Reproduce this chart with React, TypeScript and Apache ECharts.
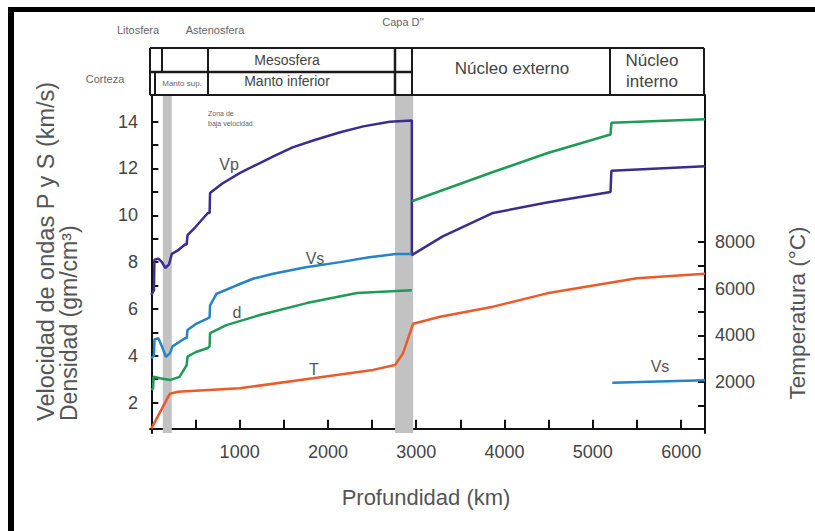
import React, { useEffect, useRef } from "react";
import * as echarts from "echarts";

// depth (km), value
const vpData: [number, number][] = [
  [0, 6.6], [30, 6.8], [35, 8.1], [80, 8.15], [120, 8.0], [160, 7.75], [200, 7.9], [232, 8.35],
  [300, 8.5], [380, 8.75], [400, 8.75], [410, 9.15], [500, 9.5], [640, 10.1], [660, 10.1],
  [665, 10.95], [800, 11.35], [1000, 11.8], [1200, 12.18], [1400, 12.55], [1600, 12.9],
  [1850, 13.22], [2140, 13.55], [2400, 13.8], [2700, 14.0], [2950, 14.05], [2950, 8.3],
  [3300, 9.1], [3870, 10.1], [4480, 10.55], [5200, 11.0], [5210, 11.9], [6270, 12.1],
];
const vsMantle: [number, number][] = [
  [0, 3.9], [30, 4.0], [35, 4.7], [80, 4.75], [120, 4.4], [165, 3.95], [210, 4.1], [240, 4.4],
  [380, 4.75], [400, 4.75], [410, 5.1], [500, 5.35], [640, 5.6], [660, 5.65], [665, 6.15],
  [740, 6.65], [960, 7.0], [1160, 7.3], [1380, 7.5], [1750, 7.78], [2140, 8.0], [2450, 8.2],
  [2770, 8.35], [2950, 8.35],
];
const vsInnerCore: [number, number][] = [[5220, 2.85], [6270, 2.95]];
const dMantle: [number, number][] = [
  [0, 2.55], [20, 2.6], [25, 3.1], [100, 3.04], [210, 2.96], [320, 3.1], [400, 3.6],
  [410, 3.96], [500, 4.15], [640, 4.33], [660, 4.4], [665, 4.97], [850, 5.31], [1230, 5.74],
  [1760, 6.25], [2330, 6.68], [2950, 6.8],
];
const dCore: [number, number][] = [
  [2950, 10.6], [3870, 11.85], [4480, 12.65], [5200, 13.45], [5210, 13.95], [6270, 14.1],
];
const tempData: [number, number][] = [
  [0, 0], [210, 1500], [300, 1580], [1000, 1730], [1830, 2160], [2510, 2520], [2760, 2730],
  [2850, 3230], [2965, 4500], [3270, 4800], [3870, 5230], [4480, 5800], [5500, 6450], [6270, 6640],
];
const grayBands: [number, number][] = [[130, 232], [2760, 2965]];
const xTicks = [500, 1000, 1500, 2000, 2500, 3000, 3500, 4000, 4500, 5000, 5500, 6000];
const xLabels = [1000, 2000, 3000, 4000, 5000, 6000];
const leftTicks = [2, 3, 4, 5, 6, 7, 8, 9, 10, 11, 12, 13, 14];
const leftLabels = [2, 4, 6, 8, 10, 12, 14];
const rightTicks = [1000, 2000, 3000, 4000, 5000, 6000, 7000, 8000];
const rightLabels = [2000, 4000, 6000, 8000];

const FONT = "Liberation Sans, Arial, sans-serif";

export default function App() {
  const ref = useRef<HTMLDivElement>(null);
  useEffect(() => {
    if (!ref.current) return;
    const chart = echarts.init(ref.current, undefined, { renderer: "svg" });
    const axisLine = { show: true, lineStyle: { color: "#111", width: 2 } };
    const tickStyle = { color: "#111", width: 2 };
    const labelStyle = { color: "#444", fontSize: 18, fontFamily: FONT, formatter: (v: number) => String(v) };
    const line = (x1: number, y1: number, x2: number, y2: number, w = 2) => ({
      type: "line", shape: { x1, y1, x2, y2 }, style: { stroke: "#1a1a1a", lineWidth: w }, z: 100,
    });
    const txt = (x: number, y: number, text: string, size: number, color = "#555", align = "center", rotation = 0) => ({
      type: "text", x, y, rotation, z: 100,
      style: { text, fill: color, font: `${size}px ${FONT}`, align, verticalAlign: "middle" },
    });
    const seriesLine = (name: string, data: [number, number][], color: string, yAxisIndex = 0) => ({
      name, type: "line", data, yAxisIndex, symbol: "none", z: 3,
      lineStyle: { color, width: 2.5 }, itemStyle: { color },
    });
    chart.setOption({
      animation: false,
      backgroundColor: "#fff",
      grid: { left: 150, right: 110, top: 95, bottom: 98 },
      xAxis: {
        type: "value", min: -15, max: 6270,
        axisLine, splitLine: { show: false },
        axisTick: { show: true, inside: true, length: 9, lineStyle: tickStyle, customValues: xTicks },
        axisLabel: { ...labelStyle, margin: 10, customValues: xLabels },
      },
      yAxis: [
        {
          type: "value", min: 0.7, max: 15.14, position: "left",
          axisLine, splitLine: { show: false },
          axisTick: { show: true, inside: true, length: 7, lineStyle: tickStyle, customValues: leftTicks },
          axisLabel: { ...labelStyle, margin: 12, customValues: leftLabels },
        },
        {
          type: "value", min: -184, max: 14300, position: "right",
          axisLine, splitLine: { show: false },
          axisTick: { show: true, inside: true, length: 7, lineStyle: tickStyle, customValues: rightTicks },
          axisLabel: { ...labelStyle, margin: 10, customValues: rightLabels },
        },
      ],
      series: [
        {
          type: "line", data: [], z: 1,
          markArea: {
            silent: true,
            itemStyle: { color: "#c2c2c2", opacity: 1 },
            data: grayBands.map(([a, b]) => [{ xAxis: a }, { xAxis: b }]),
          },
        },
        seriesLine("Vp", vpData, "#3d2b8e"),
        seriesLine("Vs", vsMantle, "#2683c6"),
        seriesLine("Vs núcleo interno", vsInnerCore, "#2683c6"),
        seriesLine("d", dMantle, "#1f9a58"),
        seriesLine("d núcleo", dCore, "#1f9a58"),
        seriesLine("T", tempData, "#ec5a2a", 1),
      ],
      graphic: [
        { type: "rect", shape: { x: 8, y: 7, width: 807, height: 5 }, style: { fill: "#000" }, z: 100 },
        { type: "rect", shape: { x: 8, y: 7, width: 6, height: 524 }, style: { fill: "#000" }, z: 100 },
        // header boxes
        line(150, 48, 704, 48),
        line(150, 95, 705, 95),
        line(150, 72, 412, 72, 2.5),
        line(150, 48, 150, 95),
        line(162, 48, 162, 72),
        line(155, 72, 155, 95),
        line(208, 48, 208, 95),
        line(395, 48, 395, 95, 2.5),
        line(412, 48, 412, 95),
        line(610, 48, 610, 95),
        line(704, 48, 704, 95),
        txt(138, 30, "Litosfera", 11, "#666"),
        txt(215, 30, "Astenosfera", 11, "#666"),
        txt(403, 22, "Capa D''", 11, "#666"),
        txt(105, 79, "Corteza", 11, "#666"),
        txt(182, 83, "Manto sup.", 8, "#666"),
        txt(287, 60, "Mesosfera", 14, "#444"),
        txt(287, 81, "Manto inferior", 14, "#444"),
        txt(512, 68, "Núcleo externo", 17, "#444"),
        txt(652, 60, "Núcleo", 17, "#444"),
        txt(652, 81, "interno", 17, "#444"),
        txt(208, 113, "Zona de", 7, "#666", "left"),
        txt(208, 123, "baja velocidad", 7, "#666", "left"),
        // curve labels
        txt(229, 164, "Vp", 16, "#555"),
        txt(315, 258, "Vs", 16, "#555"),
        txt(237, 312, "d", 16, "#555"),
        txt(314, 369, "T", 16, "#555"),
        txt(660, 366, "Vs", 16, "#555"),
        // axis titles
        txt(46, 421, "Velocidad de ondas P y S (km/s)", 23.5, "#555", "left", Math.PI / 2),
        txt(69, 421, "Densidad (gm/cm³)", 23, "#555", "left", Math.PI / 2),
        txt(797, 313, "Temperatura (°C)", 22.5, "#555", "center", Math.PI / 2),
        txt(426, 497, "Profundidad (km)", 22, "#555"),
      ],
    });
    return () => chart.dispose();
  }, []);
  return <div ref={ref} style={{ width: 815, height: 531, position: "absolute", left: 0, top: 0 }} />;
}
